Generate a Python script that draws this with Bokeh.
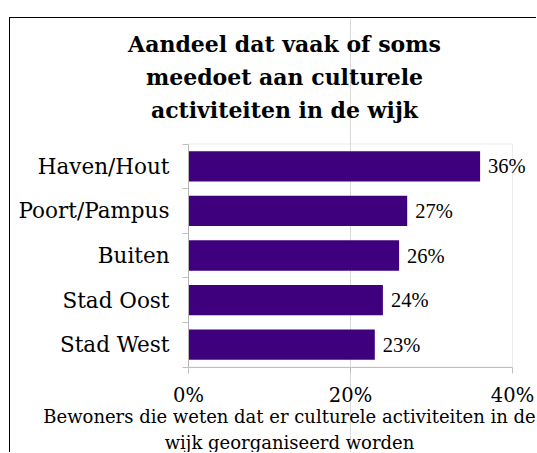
from bokeh.plotting import figure
from bokeh.models import (Range1d, FixedTicker, PrintfTickFormatter, Label, LabelSet,
                          ColumnDataSource, BoxAnnotation)
from bokeh.embed import file_html
from bokeh.resources import INLINE

# ---- data (top-to-bottom as shown) ----
categories = ["Haven/Hout", "Poort/Pampus", "Buiten", "Stad Oost", "Stad West"]
values = [36, 27, 26, 24, 23]
x_ticks = [0, 20, 40]
title_lines = ["Aandeel dat vaak of soms", "meedoet aan culturele", "activiteiten in de wijk"]
xlabel_lines = ["Bewoners die weten dat er culturele activiteiten in de",
                "wijk georganiseerd worden"]

FONT = "DejaVu Serif"
BAR = "#3F007D"
GREY = "#BFBFBF"

n = len(categories)
xmax = x_ticks[-1]

# ---- layout (pixels within the canvas) ----
W, H = 527, 435
PLOT_L, PLOT_R = 178, 502      # x pixel of 0% and 40%
PLOT_T, PLOT_B = 125.5, 348.5  # y pixel of top / bottom of category band
ppx = (PLOT_R - PLOT_L) / xmax
ppy = (PLOT_B - PLOT_T) / n

def dx(px):
    return (px - PLOT_L) / ppx

def dy(py):
    return (PLOT_B - py) / ppy

ypos = [n - 1 - i + 0.5 for i in range(n)]
src = ColumnDataSource(dict(cat=categories, val=values, y=ypos,
                            lab=[f"{v}%" for v in values]))

p = figure(width=W, height=H, output_backend="svg", toolbar_location=None,
           x_range=Range1d(dx(0), dx(W)), y_range=Range1d(dy(H), dy(0)),
           min_border=0)
p.margin = (17, 0, 0, 9)
p.styles = {"border-left": "1px solid black", "border-top": "1px solid black"}
p.background_fill_color = "white"
p.border_fill_color = "white"
p.outline_line_color = None

# plot-area border
p.add_layout(BoxAnnotation(left=0, right=xmax, bottom=0, top=n, fill_alpha=0,
                           line_color=GREY, line_width=1))

p.hbar(y="y", right="val", left=0, height=0.68, source=src, color=BAR, line_color=None)

# value labels
p.add_layout(LabelSet(x="val", y="y", text="lab", source=src, x_offset=8,
                      text_baseline="middle", text_font=FONT, text_font_size="20.5px",
                      text_color="black"))

# x axis
xa = p.xaxis[0]
xa.fixed_location = 0
xa.bounds = (0, xmax)
xa.ticker = FixedTicker(ticks=x_ticks)
xa.formatter = PrintfTickFormatter(format="%d%%")
xa.axis_line_color = GREY
xa.major_tick_line_color = GREY
xa.major_tick_out = 6
xa.major_tick_in = 0
xa.minor_tick_line_color = None
xa.major_label_standoff = 11
xa.major_label_text_font = FONT
xa.major_label_text_font_size = "19.5px"
xa.major_label_text_color = "black"

# y axis with category labels, boundary ticks as minor ticks
ya = p.yaxis[0]
ya.fixed_location = 0
ya.bounds = (0, n)
ya.ticker = FixedTicker(ticks=ypos, minor_ticks=list(range(n + 1)))
ya.major_label_overrides = {y: c for y, c in zip(ypos, categories)}
ya.axis_line_color = "#B0B0B0"
ya.major_tick_line_color = None
ya.major_tick_out = 0
ya.major_tick_in = 0
ya.minor_tick_line_color = GREY
ya.minor_tick_out = 6
ya.minor_tick_in = 0
ya.major_label_standoff = 13
ya.major_label_text_font = FONT
ya.major_label_text_font_size = "21.5px"
ya.major_label_text_color = "black"

p.xgrid.grid_line_color = "#D9D9D9"
p.xgrid.ticker = FixedTicker(ticks=x_ticks[1:-1])
p.xgrid.bounds = (0, n)
p.ygrid.grid_line_color = None

# title lines (centered over chart area)
for line, base in zip(title_lines, [25, 58.3, 91.7]):
    p.add_layout(Label(x=dx(274), y=dy(base), text=line,
                       text_align="center", text_baseline="alphabetic",
                       text_font=FONT, text_font_size="22px", text_font_style="bold",
                       text_color="black"))

# x axis title lines
for line, base in zip(xlabel_lines, [398, 424]):
    p.add_layout(Label(x=dx(279), y=dy(base), text=line,
                       text_align="center", text_baseline="alphabetic",
                       text_font=FONT, text_font_size="18px", text_color="black"))

open("out.html", "w").write(file_html(p, INLINE))
